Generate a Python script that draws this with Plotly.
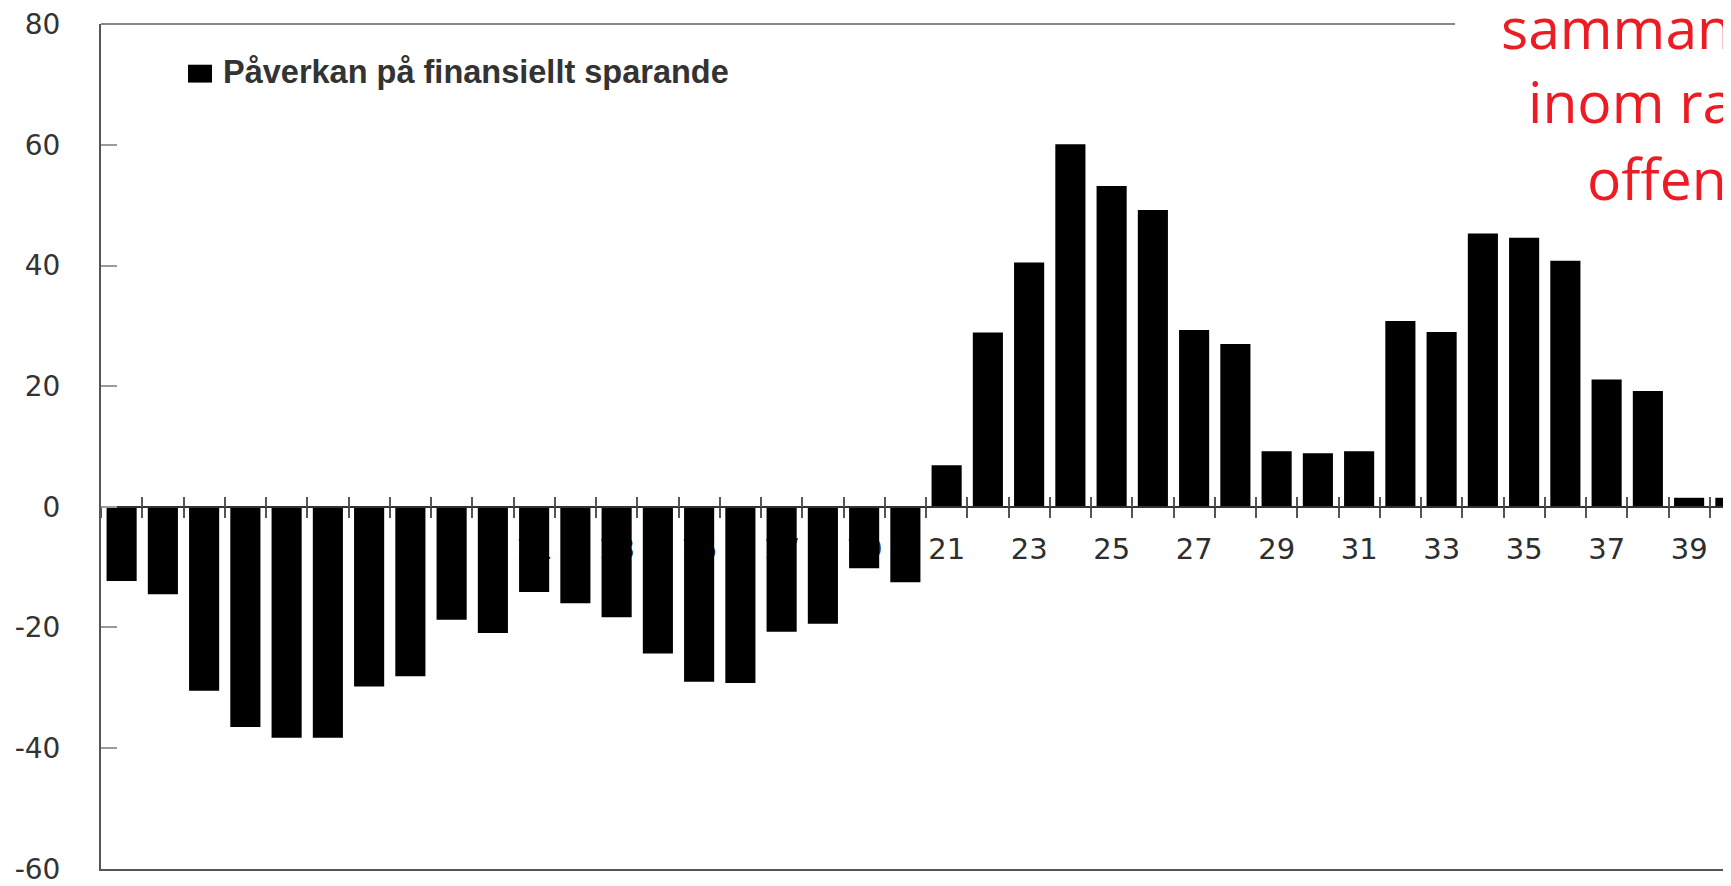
import plotly.graph_objects as go

# ---- data ----
categories = list(range(1, 41))
values = [-12.3, -14.5, -30.5, -36.5, -38.3, -38.3, -29.8, -28.1, -18.7, -20.9,
          -14.1, -16.0, -18.3, -24.3, -29.0, -29.2, -20.7, -19.4, -10.2, -12.5,
          6.9, 28.9, 40.5, 60.1, 53.2, 49.2, 29.3, 27.0, 9.2, 8.9,
          9.2, 30.8, 29.0, 45.3, 44.6, 40.8, 21.1, 19.2, 1.5, 1.5]
x_tick_values = list(range(1, 41, 2))
x_tick_labels = [str(v) for v in x_tick_values]
y_tick_values = [-60, -40, -20, 0, 20, 40, 60, 80]
y_tick_labels = [str(v) for v in y_tick_values]
series_name = "Påverkan på finansiellt sparande"
red_lines = ["sammanlagda", "inom ramen för", "offentliga"]

# ---- layout geometry (page has an 8px body margin) ----
OFF = 8
W, H = 1731 - OFF, 886 - OFF
L, R, T, B = 101 - OFF, 0, 20 - OFF, H - (871 - OFF)
cat_px = 41.25
x_range = [0.5, 0.5 + (W - L - R) / cat_px]
y_range = [-60.04, 80.04]
zero_pos = (0 - y_range[0]) / (y_range[1] - y_range[0])


def px_x(p):
    """page pixel x -> paper fraction"""
    return (p - OFF - L) / (W - L - R)


def px_y(p):
    """page pixel y (from top) -> paper fraction"""
    return (H - B - (p - OFF)) / (H - T - B)


boundaries = [c + 0.5 for c in range(0, 41)]

fig = go.Figure()
fig.add_trace(go.Bar(x=categories, y=values, marker=dict(color="#000000", line=dict(width=0)),
                     name=series_name, showlegend=False, hoverinfo="x+y"))
for ax in ["x2", "x3", "x4"]:
    fig.add_trace(go.Scatter(x=[None], y=[None], xaxis=ax, yaxis="y", showlegend=False,
                             hoverinfo="skip"))

red_font = dict(family="Open Sans", size=57, color="#ED1C24")

fig.update_layout(
    width=W, height=H,
    margin=dict(l=L, r=R, t=T, b=B, pad=0),
    paper_bgcolor="white", plot_bgcolor="white",
    bargap=0.27,
    showlegend=False,
    xaxis=dict(range=x_range, showgrid=False, zeroline=False, showline=True,
               linecolor="#555555", linewidth=2, ticks="", showticklabels=False,
               mirror=False, fixedrange=True),
    xaxis2=dict(range=x_range, overlaying="x", anchor="free", position=zero_pos,
                showgrid=False, zeroline=False, showline=True, linecolor="#333333",
                linewidth=2, tickmode="array", tickvals=boundaries, ticks="outside",
                ticklen=10, tickwidth=1.5, tickcolor="#555555", showticklabels=False,
                layer="above traces"),
    xaxis3=dict(range=x_range, overlaying="x", anchor="free", position=zero_pos,
                showgrid=False, zeroline=False, showline=False, tickmode="array",
                tickvals=boundaries, ticks="inside", ticklen=10, tickwidth=1.5,
                tickcolor="#555555", showticklabels=False, layer="above traces"),
    xaxis4=dict(range=x_range, overlaying="x", anchor="free", position=zero_pos,
                showgrid=False, zeroline=False, showline=False, tickmode="array",
                tickvals=x_tick_values, ticktext=x_tick_labels, ticks="",
                tickfont=dict(family="DejaVu Sans", size=29, color="#2e2e2e"),
                ticklabelstandoff=22, layer="below traces"),
    yaxis=dict(range=y_range, tickmode="array", tickvals=y_tick_values,
               ticktext=y_tick_labels, showgrid=False,
               zeroline=False, showline=True, linecolor="#555555", linewidth=2,
               ticks="inside", ticklen=16, tickwidth=2, tickcolor="#9a9a9a",
               tickfont=dict(family="DejaVu Sans", size=28, color="#333333"),
               ticklabelstandoff=33, ticklabeloverflow="allow", fixedrange=True),
    shapes=[
        # top frame line (rest hidden behind the text box)
        dict(type="line", xref="paper", yref="paper", x0=0, x1=px_x(1455), y0=1, y1=1,
             line=dict(color="#888888", width=2)),
        # legend swatch
        dict(type="rect", xref="paper", yref="paper", x0=px_x(188), x1=px_x(212),
             y0=px_y(79), y1=px_y(61), fillcolor="#000000", line=dict(width=0)),
    ],
    annotations=[
        dict(text=series_name, xref="paper", yref="paper", x=px_x(221), y=px_y(68),
             xanchor="left", yanchor="middle", showarrow=False,
             font=dict(family="Liberation Sans", size=32.5, color="#333333", weight="bold")),
        dict(text=red_lines[0], xref="paper", yref="paper", x=px_x(1499), y=px_y(23),
             xanchor="left", yanchor="middle", showarrow=False, font=red_font),
        dict(text=red_lines[1], xref="paper", yref="paper", x=px_x(1526), y=px_y(98),
             xanchor="left", yanchor="middle", showarrow=False, font=red_font),
        dict(text=red_lines[2], xref="paper", yref="paper", x=px_x(1585), y=px_y(175),
             xanchor="left", yanchor="middle", showarrow=False, font=red_font),
    ],
)

fig.write_html("out.html")
